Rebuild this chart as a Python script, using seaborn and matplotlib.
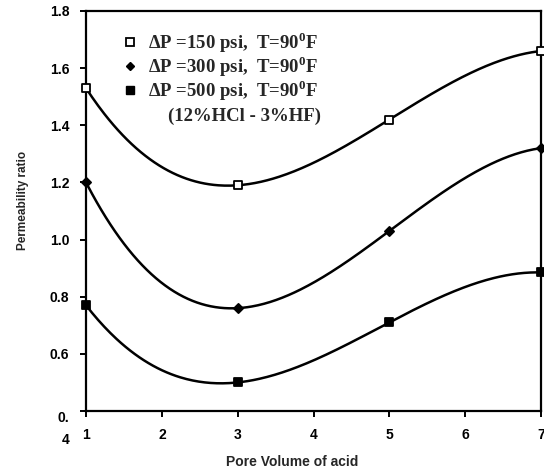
import numpy as np
import pandas as pd
import matplotlib
matplotlib.use("Agg")
import matplotlib.pyplot as plt
import seaborn as sns
from matplotlib.lines import Line2D

# ---- data ----
pore_volume = [1, 3, 5, 7]
ratio_150 = [1.53, 1.19, 1.42, 1.66]
ratio_300 = [1.20, 0.76, 1.03, 1.32]
ratio_500 = [0.77, 0.50, 0.71, 0.885]
series_labels = [
    r"ΔP =150 psi,  T=90$^{\mathbf{0}}$F",
    r"ΔP =300 psi,  T=90$^{\mathbf{0}}$F",
    r"ΔP =500 psi,  T=90$^{\mathbf{0}}$F",
]
acid_note = "(12%HCl - 3%HF)"
x_ticks = [1, 2, 3, 4, 5, 6, 7]
y_ticks = [0.4, 0.6, 0.8, 1.0, 1.2, 1.4, 1.6, 1.8]
y_tick_labels = ["0.\n4", "0.6", "0.8", "1.0", "1.2", "1.4", "1.6", "1.8"]
x_label = "Pore Volume of acid"
y_label = "Permeability ratio"

sns.set_style("ticks")
plt.rcParams["font.family"] = ["Liberation Sans", "DejaVu Sans"]
plt.rcParams["mathtext.fontset"] = "custom"
plt.rcParams["mathtext.rm"] = "Liberation Serif:bold"
plt.rcParams["mathtext.bf"] = "Liberation Serif:bold"

W, H = 544, 473
fig = plt.figure(figsize=(W / 100, H / 100), dpi=100)
fig.patch.set_facecolor("white")
left, right, top, bottom = 86, 541, 11, 411
ax = fig.add_axes([left / W, 1 - bottom / H, (right - left) / W, (bottom - top) / H])
ax.set_facecolor("white")

series = [ratio_150, ratio_300, ratio_500]
markers = ["s", "D", "s"]
faces = ["white", "black", "black"]
sizes = [30, 22, 36]

xs = np.linspace(min(pore_volume), max(pore_volume), 300)
for vals, m, fc, s in zip(series, markers, faces, sizes):
    coef = np.polyfit(pore_volume, vals, 3)
    curve = pd.DataFrame({"x": xs, "y": np.polyval(coef, xs)})
    sns.lineplot(data=curve, x="x", y="y", ax=ax, color="black", lw=1.8, zorder=2)
    sns.scatterplot(x=pore_volume, y=vals, ax=ax, marker=m, s=s, color=fc,
                    edgecolor="black", linewidth=1.3, zorder=4, clip_on=False)

ax.set_xlim(1, 7)
ax.set_ylim(0.4, 1.8)
ax.set_xticks(x_ticks)
ax.set_xticklabels([str(t) for t in x_ticks])
ax.set_yticks(y_ticks)
ax.set_yticklabels(y_tick_labels)
for sp in ax.spines.values():
    sp.set_visible(True)
    sp.set_linewidth(1.6)
    sp.set_color("black")
ax.tick_params(axis="both", direction="out", length=4, width=1.4, colors="black",
               labelsize=10)
ax.tick_params(axis="x", pad=8)
ax.tick_params(axis="y", pad=8)
for lab in ax.get_xticklabels() + ax.get_yticklabels():
    lab.set_fontweight("bold")
low = ax.get_yticklabels()[0]
low.set_va("top")
low.set_multialignment("right")
low.set_linespacing(1.7)

ax.set_xlabel(x_label, fontsize=10, fontweight="bold")
ax.set_ylabel(y_label, fontsize=8.5, fontweight="bold")
ax.xaxis.set_label_coords((292 - left) / (right - left), -(455 - bottom) / (bottom - top))
ax.yaxis.set_label_coords((29 - left) / (right - left), (bottom - 200) / (bottom - top))

handles = [
    Line2D([], [], ls="none", marker="s", ms=5.5, mfc="white", mec="black", mew=1.3),
    Line2D([], [], ls="none", marker="D", ms=4.5, mfc="black", mec="black"),
    Line2D([], [], ls="none", marker="s", ms=6, mfc="black", mec="black"),
]
leg = ax.legend(handles, series_labels, loc="upper left",
                bbox_to_anchor=(122 / W, 1 - 30 / H), bbox_transform=fig.transFigure,
                frameon=False, borderpad=0, borderaxespad=0, handlelength=0.8,
                handletextpad=0.56, labelspacing=-0.05,
                prop={"family": "Liberation Serif", "weight": "bold", "size": 13.5})
fig.text(168 / W, 1 - 116 / H, acid_note, ha="left", va="center",
         family="Liberation Serif", fontweight="bold", fontsize=13.5)

fig.savefig("out.png", dpi=100, facecolor="white")
